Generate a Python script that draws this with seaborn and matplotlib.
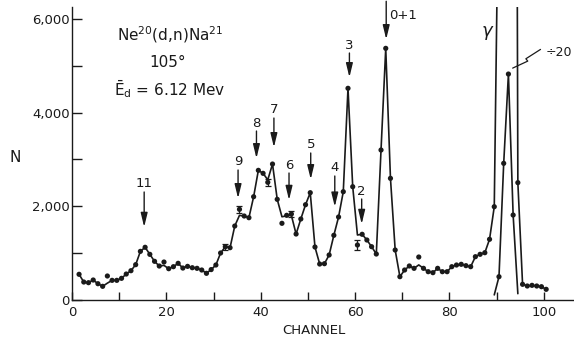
import numpy as np
import pandas as pd
import matplotlib
matplotlib.use("Agg")
import matplotlib.pyplot as plt
import seaborn as sns

# counts per channel (channels sit at n+0.5)
channels = [c + 0.5 for c in range(1, 101)]
counts = [539, 374, 360, 417, 338, 282, 503, 410, 410, 453,
          545, 616, 745, 1030, 1117, 966, 817, 716, 802, 659,
          702, 774, 673, 709, 680, 667, 631, 560, 640, 738,
          995, 1129, 1108, 1572, 1929, 1786, 1750, 2199, 2763, 2699,
          2507, 2898, 2143, 1630, 1801, 1829, 1401, 1722, 2028, 2285,
          1123, 759, 766, 952, 1373, 1765, 2306, 4518, 2413, 1166,
          1395, 1273, 1130, 973, 3198, 5373, 2592, 1059, 488, 631,
          717, 667, 909, 667, 595, 574, 667, 595, 595, 702,
          738, 753, 724, 702, 916, 967, 1001, 1288, 1985, 9760,
          58260, 96460, 36140, 2500, 325, 289, 303, 289, 274, 218]

# where the hand drawn curve leaves the points
curve_fix = {7.5: 350, 19.5: 730, 35.5: 1800, 41.5: 2560, 44.5: 1770,
             45.5: 1790, 46.5: 1800, 60.5: 1380, 73.5: 740}

# gamma peak drawn again divided by 20
scaled_channels = [89.5, 90.5, 91.5, 92.5, 93.5, 94.5]
scaled_counts = [99, 488, 2913, 4823, 1807, 125]

# points carrying error bars
err_channels = [32.5, 35.5, 41.5, 46.5, 60.5]
err_counts = [1129, 1929, 2507, 1829, 1166]
err_size = [60, 75, 75, 70, 100]

df = pd.DataFrame({"channel": channels, "N": counts})
df["curve"] = [curve_fix.get(c, n) for c, n in zip(channels, counts)]
pts = df[~df.channel.isin(scaled_channels[1:-1])]

sns.set_theme(style="ticks")
plt.rcParams["font.family"] = ["DejaVu Sans"]
plt.rcParams["mathtext.fontset"] = "dejavusans"
for key in ["text.color", "axes.labelcolor", "xtick.color", "ytick.color"]:
    plt.rcParams[key] = "k"

fig = plt.figure(figsize=(5.74, 3.39), dpi=100)
ax = fig.add_axes([0.1254, 0.1165, 0.8746, 0.8628])

sns.lineplot(data=df, x="channel", y="curve", color="k", lw=1.2, ax=ax,
             errorbar=None)
sns.lineplot(x=scaled_channels, y=scaled_counts, color="k", lw=1.2, ax=ax,
             errorbar=None)
sns.scatterplot(data=pts, x="channel", y="N", color="k", s=14,
                edgecolor="none", ax=ax, zorder=3)
sns.scatterplot(x=scaled_channels[1:-1], y=scaled_counts[1:-1], color="k",
                s=14, edgecolor="none", ax=ax, zorder=3)
ax.errorbar(err_channels, err_counts, yerr=err_size, fmt="none",
            ecolor="k", elinewidth=0.9, capsize=2.5, capthick=0.9)

ax.set_xlim(0, 106.4)
ax.set_ylim(0, 6257)
sns.despine(ax=ax)
for s in ["left", "bottom"]:
    ax.spines[s].set_linewidth(1.0)
    ax.spines[s].set_color("k")

ax.set_xticks([0, 20, 40, 60, 80, 100])
ax.set_xticks([10, 30, 50, 70, 90], minor=True)
ax.set_yticks([0, 2000, 4000, 6000])
ax.set_yticklabels(["0", "2,000", "4,000", "6,000"])
ax.set_yticks([1000, 3000, 5000], minor=True)
ax.tick_params(axis="x", which="both", direction="in", length=6, width=1,
               color="k", labelsize=9.5, pad=5)
ax.tick_params(axis="y", which="both", direction="in", length=7, width=1,
               color="k", labelsize=9.5, pad=1.5)

ax.set_xlabel("CHANNEL", fontsize=9.5)
ax.set_ylabel("N", fontsize=11, rotation=0, va="center", ha="center")
ax.xaxis.set_label_coords(0.482, -0.085)
ax.yaxis.set_label_coords(-0.113, 0.484)

# level arrows: label, channel, label height, shaft top, arrow tip
arrows = [("11", 15.3, 2492, 2300, 1551),
          ("9", 35.2, 2948, 2770, 2165),
          ("8", 39.1, 3769, 3604, 3020),
          ("7", 42.8, 4068, 3882, 3256),
          ("6", 46.0, 2870, 2706, 2128),
          ("5", 50.6, 3326, 3134, 2571),
          ("4", 55.7, 2828, 2642, 1985),
          ("2", 61.4, 2306, 2150, 1615),
          ("3", 58.8, 5444, 5273, 4753)]
head = dict(arrowstyle="-|>,head_width=0.17,head_length=0.7", color="k",
            lw=1.0, shrinkA=0, shrinkB=0)
for lab, x, ly, top, tip in arrows:
    ax.annotate("", xy=(x, tip), xytext=(x, top), arrowprops=head)
    ax.text(x, ly, lab, ha="center", va="center", fontsize=9.5)

ax.annotate("", xy=(66.6, 5566), xytext=(66.6, 6380), arrowprops=head,
            annotation_clip=False)
ax.text(67.3, 6086, "0+1", ha="left", va="center", fontsize=9.5)

ax.text(88.2, 5694, r"$\gamma$", ha="center", va="center", fontsize=13)
ax.text(100.3, 5279, "÷20", ha="left", va="center", fontsize=9)
ax.plot([99.3, 96.2, 96.6, 93.4], [5350, 5150, 5100, 4950], color="k",
        lw=0.9)

ax.text(20.8, 5660, r"Ne$^{20}$(d,n)Na$^{21}$", ha="center", va="center",
        fontsize=11)
ax.text(20.3, 5080, "105°", ha="center", va="center", fontsize=11)
ax.text(20.8, 4500, r"$\bar{\mathrm{E}}_{\mathrm{d}}$ = 6.12 Mev",
        ha="center", va="center", fontsize=11)

ax.set_facecolor("white")
fig.patch.set_facecolor("white")
fig.savefig("out.png", dpi=100)
